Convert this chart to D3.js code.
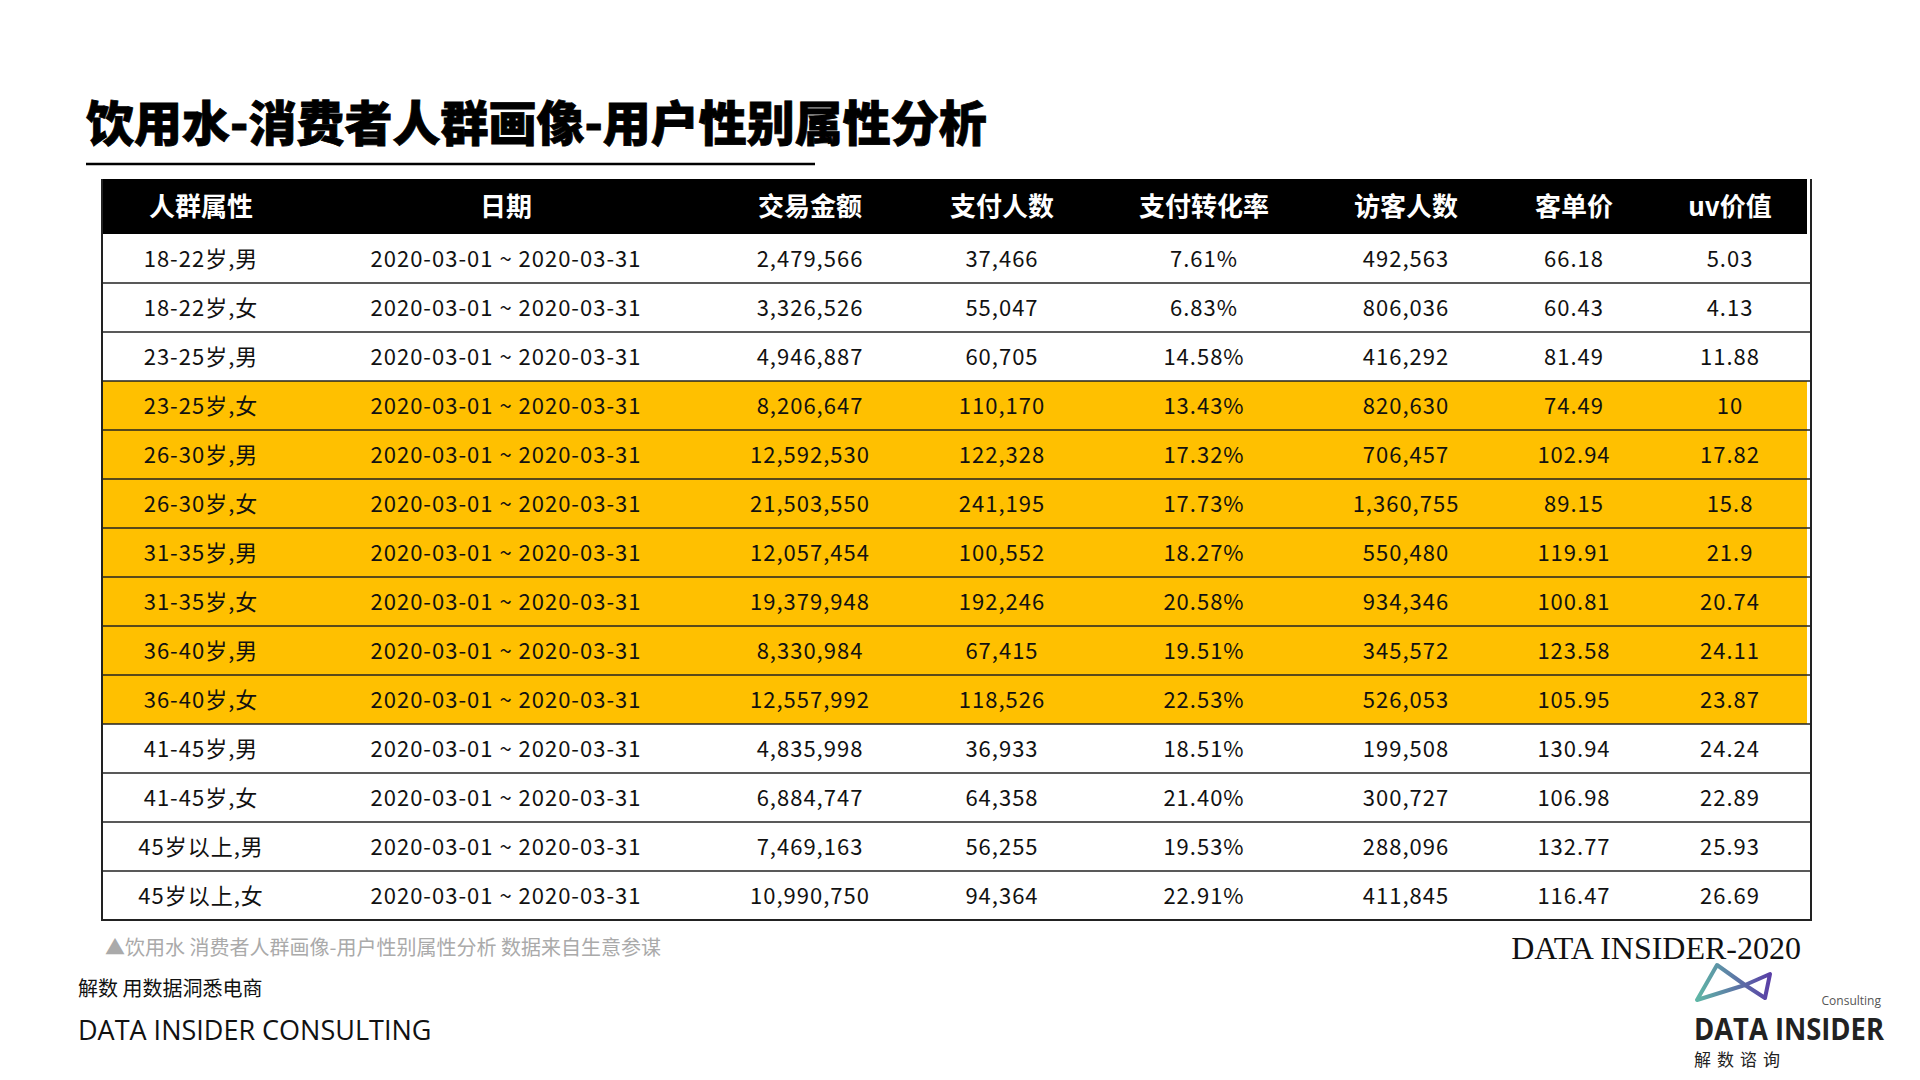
<!DOCTYPE html>
<html><head><meta charset="utf-8">
<script src="https://cdn.jsdelivr.net/npm/d3@7"></script>
<style>body{margin:0;background:#fff}svg{display:block}</style>
</head><body><svg id="c" width="1920" height="1080"></svg>
<script>
const headers = ["人群属性","日期","交易金额","支付人数","支付转化率","访客人数","客单价","uv价值"];
const groups = ["18-22岁,男","18-22岁,女","23-25岁,男","23-25岁,女","26-30岁,男","26-30岁,女","31-35岁,男","31-35岁,女","36-40岁,男","36-40岁,女","41-45岁,男","41-45岁,女","45岁以上,男","45岁以上,女"];
const dateRange = "2020-03-01 ~ 2020-03-31";
const amount = ["2,479,566","3,326,526","4,946,887","8,206,647","12,592,530","21,503,550","12,057,454","19,379,948","8,330,984","12,557,992","4,835,998","6,884,747","7,469,163","10,990,750"];
const payers = ["37,466","55,047","60,705","110,170","122,328","241,195","100,552","192,246","67,415","118,526","36,933","64,358","56,255","94,364"];
const convRate = ["7.61%","6.83%","14.58%","13.43%","17.32%","17.73%","18.27%","20.58%","19.51%","22.53%","18.51%","21.40%","19.53%","22.91%"];
const visitors = ["492,563","806,036","416,292","820,630","706,457","1,360,755","550,480","934,346","345,572","526,053","199,508","300,727","288,096","411,845"];
const avgPrice = ["66.18","60.43","81.49","74.49","102.94","89.15","119.91","100.81","123.58","105.95","130.94","106.98","132.77","116.47"];
const uvValue = ["5.03","4.13","11.88","10","17.82","15.8","21.9","20.74","24.11","23.87","24.24","22.89","25.93","26.69"];
const highlighted = [false,false,false,true,true,true,true,true,true,true,false,false,false,false];

const svg = d3.select("#c");
const F = "'Noto Sans CJK SC','Noto Sans',sans-serif";
const L = 102, R = 1811, headTop = 179, headBot = 234, bot = 920;
const colCenters = [201,506,810,1002,1204,1406,1574,1730];
const y = d3.scaleBand().domain(d3.range(groups.length)).range([headBot, bot]);

svg.append("text").attr("x",86).attr("y",141).attr("font-family",F).attr("font-weight",900)
  .attr("font-size",48).attr("fill","#000").attr("stroke","#000").attr("stroke-width",0.8).text("饮用水-消费者人群画像-用户性别属性分析");
svg.append("line").attr("x1",86).attr("x2",815).attr("y1",164).attr("y2",164).attr("stroke","#000").attr("stroke-width",2.5);

svg.append("rect").attr("x",L).attr("y",headTop).attr("width",R-L-4).attr("height",headBot-headTop).attr("fill","#000");
svg.selectAll(".h").data(headers).join("text").attr("x",(d,i)=>colCenters[i]).attr("y",(headTop+headBot)/2+9)
  .attr("text-anchor","middle").attr("font-family",F).attr("font-weight",700).attr("font-size",26).attr("fill","#fff").text(d=>d);

const rows = groups.map((g,i)=>[g,dateRange,amount[i],payers[i],convRate[i],visitors[i],avgPrice[i],uvValue[i]]);
svg.selectAll(".bg").data(rows).join("rect").attr("x",L).attr("y",(d,i)=>y(i)).attr("width",R-L-4).attr("height",y.bandwidth())
  .attr("fill",(d,i)=>highlighted[i]?"#FFC000":"#fff");
const rg = svg.selectAll(".r").data(rows).join("g").attr("transform",(d,i)=>`translate(0,${y(i)+y.bandwidth()/2+8})`);
rg.selectAll("text").data(d=>d).join("text").attr("x",(d,i)=>colCenters[i]).attr("text-anchor","middle")
  .attr("font-family",F).attr("font-size",22).attr("letter-spacing",1).attr("fill","#111").text(d=>d);
svg.selectAll(".ln").data(d3.range(1,groups.length)).join("line").attr("x1",L).attr("x2",R)
  .attr("y1",i=>y(i)).attr("y2",i=>y(i)).attr("stroke","#222").attr("stroke-width",1.5);
svg.append("path").attr("d",`M${L},${headTop}V${bot}H${R}V${headTop}`).attr("fill","none").attr("stroke","#222").attr("stroke-width",2);

svg.append("text").attr("x",105).attr("y",955).attr("font-family",F).attr("font-size",20).attr("fill","#aaa")
  .text("▲饮用水 消费者人群画像-用户性别属性分析 数据来自生意参谋");
svg.append("text").attr("x",78).attr("y",996).attr("font-family",F).attr("font-size",20).attr("fill","#111").text("解数 用数据洞悉电商");
svg.append("text").attr("x",78).attr("y",1040).attr("font-family","'Open Sans',sans-serif").attr("font-size",27).attr("fill","#111").text("DATA INSIDER CONSULTING");
svg.append("text").attr("x",1801).attr("y",959).attr("text-anchor","end").attr("font-family","'Liberation Serif',serif").attr("font-size",32).attr("fill","#111").text("DATA INSIDER-2020");
const defs = svg.append("defs");
const gr = defs.append("linearGradient").attr("id","lg");
gr.append("stop").attr("offset","0").attr("stop-color","#5fb6a6");
gr.append("stop").attr("offset","1").attr("stop-color","#5a3fa6");
svg.append("path").attr("d","M1697,1000L1717,965L1745,985L1770,974L1765,998L1745,985Z").attr("fill","none").attr("stroke","url(#lg)").attr("stroke-width",4).attr("stroke-linejoin","round");
svg.append("text").attr("x",1881).attr("y",1005).attr("text-anchor","end").attr("font-family","'Open Sans',sans-serif").attr("font-size",12).attr("fill","#555").text("Consulting");
svg.append("text").attr("x",1694).attr("y",1040).attr("font-family","'Open Sans',sans-serif").attr("font-weight",700).attr("font-size",30).attr("textLength",190).attr("lengthAdjust","spacingAndGlyphs").attr("fill","#222").text("DATA INSIDER");
svg.append("text").attr("x",1694).attr("y",1066).attr("font-family",F).attr("font-size",17).attr("letter-spacing",6).attr("fill","#222").text("解数谘询");
</script></body></html>
